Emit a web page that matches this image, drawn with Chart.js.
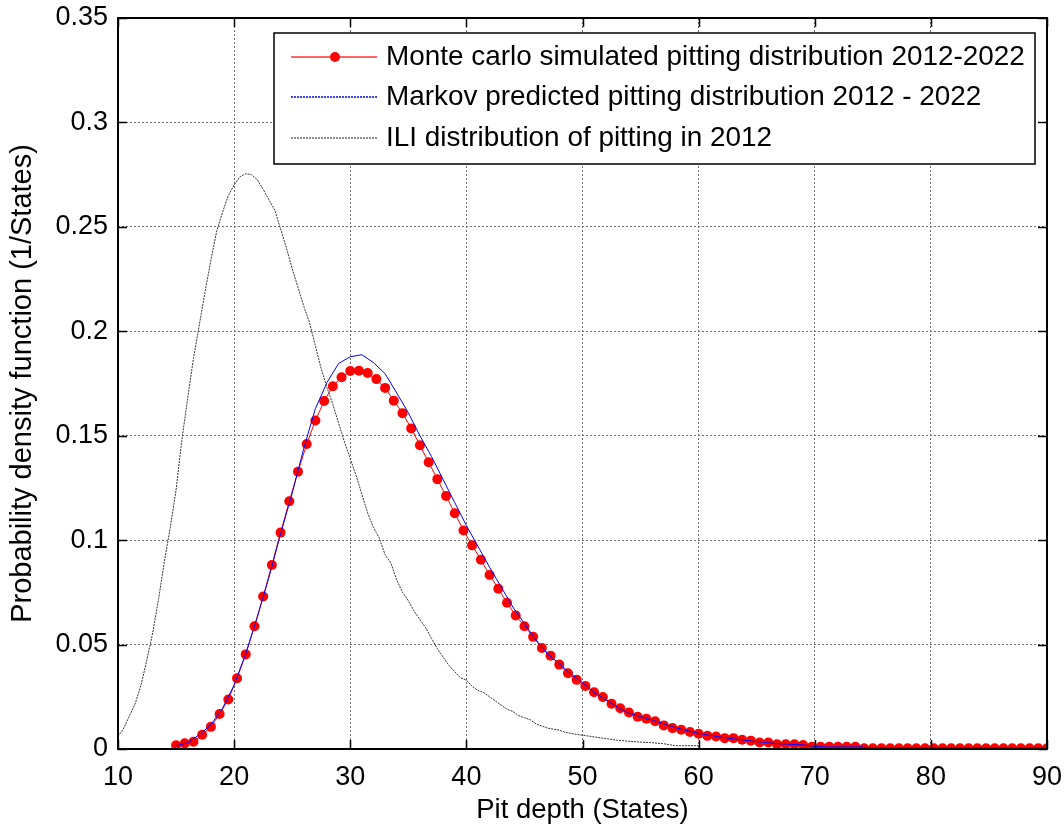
<!doctype html>
<html lang="en">
<head>
<meta charset="utf-8">
<title>Pit depth distribution</title>
<script src="https://cdn.jsdelivr.net/npm/chart.js"></script>
<style>
  html, body { margin: 0; padding: 0; background: #fff; }
  #wrap { width: 1064px; height: 828px; }
</style>
</head>
<body>
<div id="wrap"><canvas id="pdfChart" width="1064" height="828"></canvas></div>
<script>
// axis ticks
const xTicks = [10, 20, 30, 40, 50, 60, 70, 80, 90];
const yTicks = [0, 0.05, 0.1, 0.15, 0.2, 0.25, 0.3, 0.35];

// Monte carlo simulated pitting distribution 2012-2022
const mcDepth = [15, 15.75, 16.5, 17.25, 18, 18.75, 19.5, 20.25, 21, 21.75,
  22.5, 23.25, 24, 24.75, 25.5, 26.25, 27, 27.75, 28.5, 29.25,
  30, 30.75, 31.5, 32.25, 33, 33.75, 34.5, 35.25, 36, 36.75,
  37.5, 38.25, 39, 39.75, 40.5, 41.25, 42, 42.75, 43.5, 44.25,
  45, 45.75, 46.5, 47.25, 48, 48.75, 49.5, 50.25, 51, 51.75,
  52.5, 53.25, 54, 54.75, 55.5, 56.25, 57, 57.75, 58.5, 59.25,
  60, 60.75, 61.5, 62.25, 63, 63.75, 64.5, 65.25, 66, 66.75,
  67.5, 68.25, 69, 69.75, 70.5, 71.25, 72, 72.75, 73.5, 74.25,
  75, 75.75, 76.5, 77.25, 78, 78.75, 79.5, 80.25, 81, 81.75,
  82.5, 83.25, 84, 84.75, 85.5, 86.25, 87, 87.75, 88.5, 89.25, 90];
const mcPdf = [0.0018, 0.0027, 0.0035, 0.0068, 0.0106, 0.0168, 0.0237, 0.0339, 0.0453, 0.0588,
  0.0730, 0.0881, 0.1036, 0.1186, 0.1328, 0.1460, 0.1573, 0.1666, 0.1737, 0.1780,
  0.1810, 0.1811, 0.1800, 0.1771, 0.1729, 0.1668, 0.1608, 0.1535, 0.1454, 0.1373,
  0.1292, 0.1211, 0.1129, 0.1046, 0.0975, 0.0906, 0.0833, 0.0767, 0.0700, 0.0639,
  0.0588, 0.0537, 0.0484, 0.0447, 0.0404, 0.0363, 0.0331, 0.0302, 0.0272, 0.0249,
  0.0217, 0.0195, 0.0175, 0.0154, 0.0145, 0.0133, 0.0113, 0.0100, 0.0092, 0.0081,
  0.0073, 0.0063, 0.0060, 0.0052, 0.0052, 0.0044, 0.0040, 0.0031, 0.0031, 0.0023,
  0.0023, 0.0023, 0.0019, 0.0011, 0.0011, 0.0011, 0.0011, 0.0011, 0.0011, 0.0004,
  0.0004, 0.0004, 0.0004, 0.0004, 0.0004, 0.0004, 0.0004, 0.0004, 0.0004, 0.0004,
  0.0004, 0.0004, 0.0004, 0.0004, 0.0004, 0.0004, 0.0004, 0.0004, 0.0004, 0.0004, 0.0004];

// Markov predicted pitting distribution 2012 - 2022
const mkDepth = [15, 16, 17, 18, 19, 20, 21, 22, 23, 24, 25, 26, 27, 28, 29,
  30, 31, 32, 33, 34, 35, 36, 37, 38, 39, 40, 41, 42, 43, 44,
  45, 46, 47, 48, 49, 50, 51, 52, 53, 54, 55, 56, 57, 58, 59,
  60, 61, 62, 63, 64, 65, 66, 67, 68, 69, 70, 71, 72, 73, 74,
  75, 76, 77, 78, 79, 80, 81, 82, 83, 84, 85, 86, 87, 88, 89, 90];
const mkPdf = [0.0015, 0.0030, 0.0068, 0.0116, 0.0195, 0.0306, 0.0457, 0.0632, 0.0822, 0.1029,
  0.1225, 0.1440, 0.1630, 0.1755, 0.1846, 0.1878, 0.1888, 0.1850, 0.1797, 0.1705,
  0.1610, 0.1500, 0.1400, 0.1290, 0.1180, 0.1070, 0.0970, 0.0870, 0.0775, 0.0680,
  0.0600, 0.0522, 0.0455, 0.0408, 0.0360, 0.0318, 0.0271, 0.0236, 0.0200, 0.0171,
  0.0155, 0.0139, 0.0120, 0.0102, 0.0088, 0.0075, 0.0065, 0.0056, 0.0049, 0.0042,
  0.0035, 0.0030, 0.0025, 0.0022, 0.0020, 0.0012, 0.0010, 0.0010, 0.0010, 0.0010,
  0.0004, 0.0004, 0.0004, 0.0004, 0.0004, 0.0004, 0.0004, 0.0004, 0.0004, 0.0004,
  0.0004, 0.0004, 0.0004, 0.0004, 0.0004, 0.0004];

// ILI distribution of pitting in 2012
const iliDepth = [10, 10.5, 11, 11.5, 12, 12.5, 13, 13.5, 14, 14.5,
  15, 15.5, 16, 16.5, 17, 17.5, 18, 18.5, 19, 19.5,
  20, 20.5, 21, 21.5, 22, 22.5, 23, 23.5, 24, 24.5,
  25, 25.5, 26, 26.5, 27, 27.5, 28, 28.5, 29, 29.5,
  30, 30.5, 31, 31.5, 32, 32.5, 33, 33.5, 34, 34.5,
  35, 35.5, 36, 36.5, 37, 37.5, 38, 38.5, 39, 39.5,
  40, 40.5, 41, 41.5, 42, 42.5, 43, 43.5, 44, 44.5,
  45, 45.5, 46, 46.5, 47, 47.5, 48, 48.5, 49, 49.5,
  50, 51, 52, 53, 54, 55, 56, 57, 58, 59, 60];
const iliPdf = [0.006, 0.010, 0.016, 0.022, 0.031, 0.043, 0.056, 0.072, 0.090, 0.106,
  0.124, 0.148, 0.168, 0.187, 0.203, 0.219, 0.234, 0.248, 0.257, 0.265,
  0.270, 0.274, 0.2755, 0.275, 0.2725, 0.268, 0.263, 0.258, 0.249, 0.240,
  0.230, 0.221, 0.212, 0.204, 0.193, 0.182, 0.173, 0.165, 0.156, 0.147,
  0.139, 0.131, 0.122, 0.113, 0.106, 0.101, 0.093, 0.089, 0.081, 0.075,
  0.071, 0.066, 0.062, 0.058, 0.053, 0.048, 0.044, 0.040, 0.037, 0.034,
  0.033, 0.030, 0.028, 0.027, 0.025, 0.023, 0.021, 0.019, 0.018, 0.016,
  0.015, 0.014, 0.012, 0.011, 0.010, 0.0095, 0.009, 0.008, 0.0075, 0.007,
  0.0066, 0.0058, 0.0050, 0.0042, 0.0037, 0.0033, 0.0030, 0.0025, 0.0016, 0.0016, 0.0016];

const FONT = '"Liberation Sans", Arial, Helvetica, sans-serif';

function pairs(xs, ys) {
  return xs.map((x, i) => ({ x: x, y: ys[i] }));
}

// box round the plot with inward tick marks on all four sides
const axesBox = {
  id: 'axesBox',
  afterDatasetsDraw(chart) {
    const { ctx, chartArea: a, scales } = chart;
    const len = 9;
    ctx.save();
    ctx.strokeStyle = '#000';
    ctx.lineWidth = 1.5;
    ctx.beginPath();
    xTicks.forEach(v => {
      const px = Math.round(scales.x.getPixelForValue(v)) + 0.5;
      ctx.moveTo(px, a.bottom); ctx.lineTo(px, a.bottom - len);
      ctx.moveTo(px, a.top); ctx.lineTo(px, a.top + len);
    });
    yTicks.forEach(v => {
      const py = Math.round(scales.y.getPixelForValue(v)) + 0.5;
      ctx.moveTo(a.left, py); ctx.lineTo(a.left + len, py);
      ctx.moveTo(a.right, py); ctx.lineTo(a.right - len, py);
    });
    ctx.stroke();
    ctx.lineWidth = 2;
    ctx.strokeRect(a.left, a.top, a.right - a.left, a.bottom - a.top);
    ctx.restore();
  }
};

// legend box in the upper right corner
const legendBox = {
  id: 'legendBox',
  afterDraw(chart) {
    const ctx = chart.ctx;
    const box = { left: 274, top: 33, right: 1035, bottom: 164 };
    const rows = [57, 97, 138];
    const entries = [
      { text: 'Monte carlo simulated pitting distribution 2012-2022', color: 'rgba(255,0,0,0.6)', width: 2, dash: [], dot: true },
      { text: 'Markov predicted pitting distribution 2012 - 2022', color: '#0000ff', width: 1.5, dash: [2, 1], dot: false },
      { text: 'ILI distribution of pitting in 2012', color: '#202020', width: 1.2, dash: [2, 1], dot: false }
    ];
    ctx.save();
    ctx.fillStyle = '#fff';
    ctx.fillRect(box.left, box.top, box.right - box.left, box.bottom - box.top);
    ctx.strokeStyle = '#000';
    ctx.lineWidth = 1.5;
    ctx.strokeRect(box.left, box.top, box.right - box.left, box.bottom - box.top);
    entries.forEach((e, i) => {
      const y = rows[i];
      ctx.setLineDash(e.dash);
      ctx.strokeStyle = e.color;
      ctx.lineWidth = e.width;
      ctx.beginPath();
      ctx.moveTo(291, y);
      ctx.lineTo(377, y);
      ctx.stroke();
      ctx.setLineDash([]);
      if (e.dot) {
        ctx.fillStyle = '#ff0000';
        ctx.beginPath();
        ctx.arc(335, y, 5, 0, Math.PI * 2);
        ctx.fill();
      }
      ctx.fillStyle = '#000';
      ctx.font = '27.9px ' + FONT;
      ctx.textBaseline = 'middle';
      ctx.textAlign = 'left';
      ctx.fillText(e.text, 386, y);
    });
    ctx.restore();
  }
};

new Chart(document.getElementById('pdfChart'), {
  type: 'line',
  data: {
    datasets: [
      {
        label: 'Monte carlo simulated pitting distribution 2012-2022',
        data: pairs(mcDepth, mcPdf),
        borderColor: '#ff0000',
        borderWidth: 1,
        backgroundColor: '#ff0000',
        pointRadius: 5,
        pointBorderWidth: 0,
        pointBackgroundColor: '#ff0000',
        tension: 0,
        order: 3
      },
      {
        label: 'Markov predicted pitting distribution 2012 - 2022',
        data: pairs(mkDepth, mkPdf),
        borderColor: '#0000ff',
        borderWidth: 1,
        pointRadius: 0,
        tension: 0,
        order: 2
      },
      {
        label: 'ILI distribution of pitting in 2012',
        data: pairs(iliDepth, iliPdf),
        borderColor: '#333333',
        borderWidth: 1,
        borderDash: [2, 1],
        pointRadius: 0,
        tension: 0,
        order: 1
      }
    ]
  },
  options: {
    responsive: false,
    animation: false,
    devicePixelRatio: 1,
    layout: { padding: { top: 18, right: 17, left: 0, bottom: 0 } },
    plugins: {
      legend: { display: false },
      tooltip: { enabled: false }
    },
    scales: {
      x: {
        type: 'linear',
        min: 10,
        max: 90,
        afterBuildTicks: s => { s.ticks = xTicks.map(v => ({ value: v })); },
        afterFit: s => { s.height = 79; s.paddingLeft = 0; s.paddingRight = 0; },
        ticks: {
          color: '#000',
          font: { family: FONT, size: 27 },
          padding: 12,
          maxRotation: 0,
          callback: v => String(v)
        },
        grid: { color: '#6e6e6e', lineWidth: 1, drawTicks: false },
        border: { display: false, dash: [2, 2] },
        title: {
          display: true,
          text: 'Pit depth (States)',
          color: '#000',
          font: { family: FONT, size: 27.5 },
          padding: { top: 0, bottom: 1 }
        }
      },
      y: {
        type: 'linear',
        min: 0,
        max: 0.35,
        afterBuildTicks: s => { s.ticks = yTicks.map(v => ({ value: v })); },
        afterFit: s => { s.width = 118; s.paddingTop = 0; s.paddingBottom = 0; },
        ticks: {
          color: '#000',
          font: { family: FONT, size: 27 },
          padding: 10,
          callback: v => String(v)
        },
        grid: { color: '#6e6e6e', lineWidth: 1, drawTicks: false },
        border: { display: false, dash: [2, 2] },
        title: {
          display: true,
          text: 'Probability density function (1/States)',
          color: '#000',
          font: { family: FONT, size: 29 },
          padding: { top: 6, bottom: 0 }
        }
      }
    }
  },
  plugins: [axesBox, legendBox]
});
</script>
</body>
</html>
